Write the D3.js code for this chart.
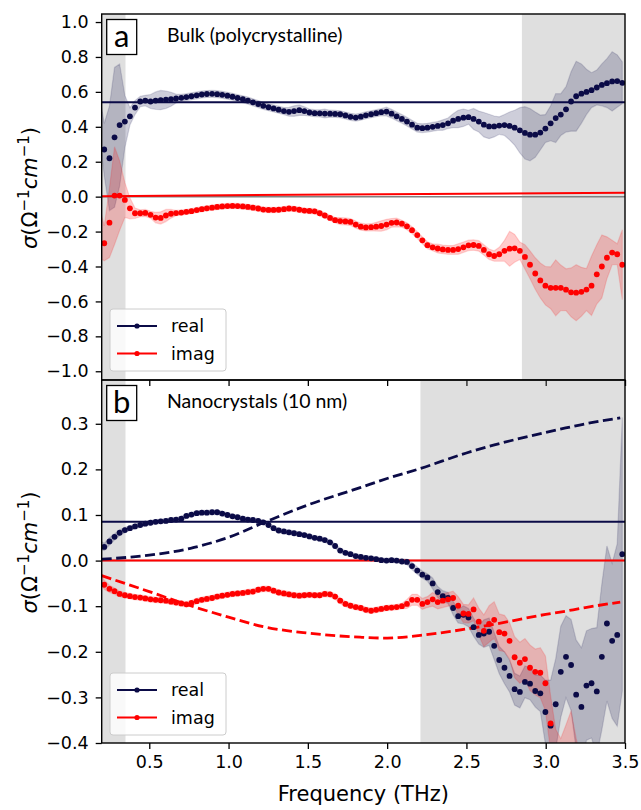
<!DOCTYPE html>
<html>
<head>
<meta charset="utf-8">
<script src="https://cdn.jsdelivr.net/npm/d3@7"></script>
<style>
  body { margin: 0; background: #fff; }
  svg { display: block; }
</style>
</head>
<body>
<div id="chart"></div>
<script>
// THz conductivity, bulk vs nanocrystals
//
// frequency grid of the measurement (THz)
var freq = [0.184,0.216,0.249,0.281,0.313,0.346,0.378,0.410,0.443,0.475,
  0.508,0.540,0.572,0.605,0.637,0.669,0.702,0.734,0.766,0.799,
  0.831,0.863,0.896,0.928,0.960,0.993,1.025,1.057,1.090,1.122,
  1.154,1.187,1.219,1.252,1.284,1.316,1.349,1.381,1.413,1.446,
  1.478,1.510,1.543,1.575,1.607,1.640,1.672,1.704,1.737,1.769,
  1.802,1.834,1.866,1.899,1.931,1.963,1.996,2.028,2.060,2.093,
  2.125,2.157,2.190,2.222,2.254,2.287,2.319,2.351,2.384,2.416,
  2.448,2.481,2.513,2.545,2.578,2.610,2.643,2.675,2.707,2.740,
  2.772,2.804,2.837,2.869,2.901,2.934,2.966,2.998,3.031,3.063,
  3.095,3.128,3.160,3.192,3.225,3.257,3.289,3.322,3.354,3.386,
  3.419,3.451,3.483];

// (a) bulk
var bulkReal = [0.48,0.27,0.22,0.34,0.41,0.43,0.46,0.51,0.545,0.55,
  0.545,0.55,0.553,0.555,0.558,0.562,0.566,0.57,0.575,0.58,
  0.585,0.588,0.589,0.587,0.583,0.578,0.572,0.565,0.558,0.55,
  0.54,0.53,0.52,0.512,0.505,0.498,0.49,0.486,0.49,0.495,
  0.49,0.482,0.478,0.477,0.476,0.475,0.474,0.472,0.465,0.457,
  0.453,0.458,0.466,0.472,0.478,0.484,0.487,0.475,0.46,0.445,
  0.43,0.412,0.395,0.392,0.395,0.4,0.405,0.41,0.42,0.435,
  0.445,0.452,0.455,0.445,0.43,0.412,0.402,0.402,0.407,0.41,
  0.405,0.395,0.38,0.365,0.355,0.355,0.367,0.39,0.42,0.45,
  0.47,0.5,0.545,0.575,0.59,0.6,0.61,0.625,0.64,0.65,
  0.66,0.662,0.652];
var bulkRealErr = [0.11,0.15,0.3,0.4,0.35,0.15,0.05,0.04,0.03,0.03,
  0.04,0.05,0.055,0.05,0.04,0.025,0.02,0.02,0.02,0.02,
  0.02,0.02,0.02,0.02,0.02,0.02,0.02,0.02,0.02,0.02,
  0.02,0.02,0.02,0.02,0.02,0.02,0.02,0.025,0.03,0.03,
  0.025,0.02,0.02,0.02,0.025,0.02,0.02,0.02,0.02,0.02,
  0.02,0.02,0.02,0.02,0.02,0.02,0.025,0.025,0.025,0.025,
  0.025,0.025,0.025,0.025,0.025,0.025,0.025,0.03,0.03,0.04,
  0.05,0.05,0.04,0.06,0.06,0.07,0.07,0.06,0.05,0.06,
  0.08,0.1,0.13,0.15,0.15,0.13,0.1,0.08,0.1,0.14,
  0.12,0.13,0.17,0.2,0.17,0.13,0.1,0.1,0.12,0.14,
  0.17,0.15,0.12];
var bulkImag = [-0.2,-0.267,-0.149,0.006,0.006,-0.019,-0.067,-0.095,-0.095,-0.093,
  -0.104,-0.12,-0.122,-0.108,-0.098,-0.094,-0.091,-0.087,-0.083,-0.077,
  -0.072,-0.067,-0.063,-0.059,-0.056,-0.054,-0.053,-0.054,-0.056,-0.059,
  -0.063,-0.068,-0.074,-0.076,-0.076,-0.075,-0.072,-0.068,-0.07,-0.075,
  -0.08,-0.082,-0.084,-0.095,-0.108,-0.122,-0.135,-0.14,-0.142,-0.145,
  -0.16,-0.172,-0.176,-0.175,-0.172,-0.168,-0.16,-0.15,-0.148,-0.155,
  -0.17,-0.192,-0.22,-0.25,-0.278,-0.29,-0.297,-0.302,-0.305,-0.305,
  -0.3,-0.29,-0.279,-0.277,-0.282,-0.305,-0.33,-0.34,-0.33,-0.31,
  -0.298,-0.296,-0.31,-0.345,-0.39,-0.44,-0.48,-0.51,-0.522,-0.522,
  -0.522,-0.533,-0.548,-0.55,-0.545,-0.532,-0.51,-0.445,-0.4,-0.35,
  -0.32,-0.33,-0.39];
var bulkImagErr = [0.15,0.1,0.2,0.28,0.2,0.1,0.06,0.03,0.02,0.02,
  0.02,0.03,0.035,0.035,0.025,0.015,0.015,0.015,0.015,0.015,
  0.015,0.015,0.015,0.015,0.015,0.015,0.015,0.015,0.015,0.015,
  0.015,0.015,0.015,0.015,0.015,0.015,0.015,0.015,0.015,0.015,
  0.015,0.015,0.015,0.015,0.015,0.015,0.015,0.02,0.02,0.02,
  0.02,0.02,0.02,0.02,0.025,0.03,0.03,0.025,0.025,0.02,
  0.02,0.02,0.02,0.02,0.02,0.02,0.025,0.025,0.025,0.025,
  0.03,0.03,0.03,0.03,0.03,0.03,0.03,0.03,0.04,0.06,
  0.1,0.08,0.05,0.07,0.08,0.09,0.1,0.11,0.12,0.16,
  0.13,0.12,0.14,0.16,0.14,0.12,0.17,0.17,0.18,0.12,
  0.07,0.06,0.2];

// (b) nanocrystals
var nanoReal = [0.035,0.03,0.042,0.052,0.061,0.067,0.071,0.075,0.078,0.081,
  0.083,0.085,0.086,0.087,0.089,0.09,0.092,0.098,0.101,0.104,
  0.105,0.105,0.106,0.106,0.103,0.1,0.097,0.095,0.092,0.09,
  0.089,0.087,0.084,0.078,0.071,0.066,0.064,0.062,0.06,0.058,
  0.056,0.053,0.05,0.048,0.045,0.04,0.032,0.022,0.017,0.014,
  0.01,0.008,0.006,0.005,0.003,0.001,0.0,0.001,0.0,-0.002,
  -0.003,-0.012,-0.022,-0.031,-0.037,-0.05,-0.069,-0.078,-0.082,-0.104,
  -0.122,-0.119,-0.125,-0.146,-0.163,-0.16,-0.156,-0.187,-0.218,-0.235,
  -0.253,-0.282,-0.288,-0.266,-0.27,-0.286,-0.291,-0.332,-0.362,-0.315,
  -0.244,-0.211,-0.229,-0.294,-0.321,-0.274,-0.269,-0.287,-0.211,-0.138,
  -0.176,-0.163,0.014];
var nanoRealErr = [0.01,0.008,0.008,0.007,0.006,0.006,0.005,0.005,0.005,0.005,
  0.005,0.005,0.005,0.005,0.005,0.005,0.005,0.005,0.005,0.005,
  0.005,0.005,0.005,0.005,0.005,0.005,0.005,0.005,0.005,0.005,
  0.005,0.005,0.005,0.005,0.005,0.005,0.005,0.005,0.005,0.005,
  0.005,0.005,0.005,0.005,0.005,0.005,0.005,0.005,0.005,0.005,
  0.005,0.005,0.005,0.005,0.005,0.005,0.005,0.005,0.005,0.005,
  0.006,0.008,0.008,0.008,0.008,0.012,0.012,0.012,0.012,0.015,
  0.015,0.02,0.02,0.02,0.02,0.03,0.03,0.03,0.03,0.035,
  0.035,0.035,0.035,0.035,0.035,0.035,0.04,0.07,0.1,0.1,
  0.1,0.09,0.1,0.12,0.13,0.12,0.12,0.14,0.16,0.17,
  0.17,0.2,0.3];
var nanoImag = [-0.035,-0.053,-0.062,-0.067,-0.073,-0.076,-0.078,-0.08,-0.081,-0.083,
  -0.085,-0.086,-0.087,-0.088,-0.09,-0.092,-0.094,-0.096,-0.093,-0.089,
  -0.086,-0.084,-0.082,-0.079,-0.077,-0.075,-0.073,-0.072,-0.071,-0.069,
  -0.068,-0.064,-0.062,-0.062,-0.066,-0.07,-0.072,-0.074,-0.076,-0.077,
  -0.076,-0.075,-0.076,-0.076,-0.073,-0.074,-0.079,-0.088,-0.095,-0.099,
  -0.102,-0.104,-0.108,-0.11,-0.108,-0.106,-0.104,-0.103,-0.102,-0.1,
  -0.095,-0.086,-0.086,-0.095,-0.091,-0.085,-0.091,-0.088,-0.085,-0.082,
  -0.099,-0.116,-0.117,-0.107,-0.134,-0.154,-0.139,-0.13,-0.157,-0.16,
  -0.176,-0.212,-0.224,-0.216,-0.235,-0.244,-0.246,-0.269,-0.357,-0.42,
  -0.45,-0.46,-0.45,-0.47,-0.5,-0.55,-0.55,-0.55,-0.55,-0.55,
  -0.55,-0.55,-0.55];
var nanoImagErr = [0.012,0.01,0.008,0.007,0.006,0.006,0.006,0.006,0.006,0.006,
  0.006,0.006,0.006,0.006,0.006,0.006,0.006,0.006,0.006,0.006,
  0.006,0.006,0.006,0.006,0.006,0.006,0.006,0.006,0.006,0.006,
  0.006,0.006,0.006,0.006,0.006,0.006,0.006,0.006,0.006,0.006,
  0.006,0.006,0.006,0.006,0.006,0.006,0.006,0.006,0.006,0.006,
  0.006,0.006,0.006,0.006,0.006,0.006,0.006,0.006,0.006,0.006,
  0.01,0.012,0.012,0.012,0.012,0.015,0.015,0.015,0.015,0.015,
  0.02,0.02,0.02,0.025,0.03,0.035,0.04,0.04,0.04,0.04,
  0.04,0.045,0.045,0.045,0.05,0.05,0.055,0.06,0.06,0.05,
  0.06,0.1,0.12,0.08,0.06,0.05,0.05,0.05,0.05,0.05,
  0.05,0.05,0.05];

// fits
var fitFreq = [0.2, 3.5];
var bulkFitReal = [0.54, 0.54];
var bulkFitImag = [0.003, 0.023];
var nanoFitReal = [0.085, 0.085];
var nanoFitImag = [0.0, 0.0];
// model curves (dashed) for the nanocrystals
var modelFreq = [0.2, 0.5, 0.76, 1.0, 1.22, 1.5, 1.83, 2.0, 2.21, 2.5, 2.67, 3.0, 3.09, 3.25, 3.47];
var modelReal = [0.003, 0.012, 0.027, 0.051, 0.083, 0.122, 0.16, 0.18, 0.202, 0.236, 0.253, 0.281, 0.288, 0.3, 0.313];
var modelImag = [-0.033, -0.068, -0.099, -0.124, -0.145, -0.159, -0.168, -0.17, -0.164, -0.15, -0.14, -0.118, -0.113, -0.103, -0.091];

// shaded frequency windows and ticks
var bulkShades = [[0.2, 0.35], [2.85, 3.5]];
var nanoShades = [[0.2, 0.35], [2.21, 3.5]];
var xTicks = [0.5, 1.0, 1.5, 2.0, 2.5, 3.0, 3.5];
var bulkTicks = [-1.0, -0.8, -0.6, -0.4, -0.2, 0.0, 0.2, 0.4, 0.6, 0.8, 1.0];
var nanoTicks = [-0.4, -0.3, -0.2, -0.1, 0.0, 0.1, 0.2, 0.3];
var legendLabels = ["real", "imag"];

var NAVY = "#0b0b47", RED = "#ff0000";

var width = 641, height = 810;
var left = 101.7, right = 625;

var x = d3.scaleLinear().domain([0.2, 3.5]).range([left, right]);

var panels = [
  {label: "a", title: "Bulk (polycrystalline)", top: 14, bottom: 380, domain: [-1.05, 1.046],
   ticks: bulkTicks, real: bulkReal, realErr: bulkRealErr, imag: bulkImag, imagErr: bulkImagErr,
   shades: bulkShades, fitReal: bulkFitReal, fitImag: bulkFitImag, model: false, legendTop: 309, xLabels: false},
  {label: "b", title: "Nanocrystals (10 nm)", top: 380, bottom: 743, domain: [-0.4, 0.396],
   ticks: nanoTicks, real: nanoReal, realErr: nanoRealErr, imag: nanoImag, imagErr: nanoImagErr,
   shades: nanoShades, fitReal: nanoFitReal, fitImag: nanoFitImag, model: true, legendTop: 673, xLabels: true}
];

var svg = d3.select("#chart").append("svg")
  .attr("width", width)
  .attr("height", height)
  .style("font-family", "'DejaVu Sans', sans-serif");

var fmt = d3.format(".1f");

panels.forEach(function(p, k) {
  var y = d3.scaleLinear().domain(p.domain).range([p.bottom, p.top]);
  var g = svg.append("g");

  var clipId = "clip" + k;
  svg.append("clipPath").attr("id", clipId)
    .append("rect")
      .attr("x", left).attr("y", p.top)
      .attr("width", right - left).attr("height", p.bottom - p.top);

  var plot = g.append("g").attr("clip-path", "url(#" + clipId + ")");

  // grey windows
  plot.selectAll(".shade")
    .data(p.shades)
    .enter().append("rect")
      .attr("x", d => x(d[0]))
      .attr("width", d => x(d[1]) - x(d[0]))
      .attr("y", p.top)
      .attr("height", p.bottom - p.top)
      .style("fill", "#808080")
      .style("fill-opacity", 0.25);

  var series = [
    {vals: p.real, err: p.realErr, color: NAVY},
    {vals: p.imag, err: p.imagErr, color: RED}
  ];

  // error bands
  series.forEach(function(s) {
    var area = d3.area()
      .x((d, i) => x(freq[i]))
      .y0((d, i) => y(d - s.err[i]))
      .y1((d, i) => y(d + s.err[i]));
    plot.append("path")
      .datum(s.vals)
      .attr("d", area)
      .style("fill", s.color)
      .style("fill-opacity", 0.2)
      .style("stroke", s.color)
      .style("stroke-opacity", 0.15)
      .style("stroke-width", 1.2);
  });

  // zero line
  plot.append("line")
    .attr("x1", left).attr("x2", right)
    .attr("y1", y(0)).attr("y2", y(0))
    .style("stroke", "#808080")
    .style("stroke-width", 1.5);

  var line = d3.line().x(d => x(d[0])).y(d => y(d[1]));

  // fit lines
  plot.append("path")
    .datum(fitFreq.map((f, i) => [f, p.fitReal[i]]))
    .attr("d", line)
    .style("fill", "none").style("stroke", NAVY).style("stroke-width", 2);
  plot.append("path")
    .datum(fitFreq.map((f, i) => [f, p.fitImag[i]]))
    .attr("d", line)
    .style("fill", "none").style("stroke", RED).style("stroke-width", 2);

  if (p.model) {
    var smooth = d3.line().curve(d3.curveMonotoneX).x(d => x(d[0])).y(d => y(d[1]));
    plot.append("path")
      .datum(modelFreq.map((f, i) => [f, modelReal[i]]))
      .attr("d", smooth)
      .style("fill", "none").style("stroke", NAVY).style("stroke-width", 2.8)
      .style("stroke-dasharray", "10,4.5");
    plot.append("path")
      .datum(modelFreq.map((f, i) => [f, modelImag[i]]))
      .attr("d", smooth)
      .style("fill", "none").style("stroke", RED).style("stroke-width", 2.8)
      .style("stroke-dasharray", "10,4.5");
  }

  // data points
  series.forEach(function(s) {
    plot.append("g").selectAll("circle")
      .data(s.vals)
      .enter().append("circle")
        .attr("cx", (d, i) => x(freq[i]))
        .attr("cy", d => y(d))
        .attr("r", 2.9)
        .style("fill", s.color);
  });

  // y axis
  g.append("g")
    .attr("transform", "translate(" + left + ",0)")
    .call(d3.axisLeft(y).tickValues(p.ticks).tickSize(6).tickPadding(7).tickFormat(fmt))
    .call(a => a.select(".domain").remove())
    .call(a => a.selectAll("line").style("stroke", "#000").style("stroke-width", 1.3))
    .call(a => a.selectAll("text").style("font-size", "17.5px").style("fill", "#000")
      .style("font-family", "'DejaVu Sans', sans-serif"));

  // x axis
  g.append("g")
    .attr("transform", "translate(0," + p.bottom + ")")
    .call(d3.axisBottom(x).tickValues(xTicks).tickSize(6).tickPadding(7)
      .tickFormat(p.xLabels ? fmt : ""))
    .call(a => a.select(".domain").remove())
    .call(a => a.selectAll("line").style("stroke", "#000").style("stroke-width", 1.3))
    .call(a => a.selectAll("text").style("font-size", "17.5px").style("fill", "#000")
      .style("font-family", "'DejaVu Sans', sans-serif"));

  // frame
  g.append("rect")
    .attr("x", left).attr("y", p.top)
    .attr("width", right - left).attr("height", p.bottom - p.top)
    .style("fill", "none").style("stroke", "#000").style("stroke-width", 1.4);

  // y label: sigma(Ohm^-1 cm^-1)
  var yl = g.append("text")
    .attr("transform", "translate(37," + ((p.top + p.bottom) / 2 - 9) + ") rotate(-90)")
    .attr("text-anchor", "middle")
    .style("font-size", "21px")
    .style("fill", "#000");
  yl.append("tspan").style("font-style", "italic").text("σ");
  yl.append("tspan").text("(Ω");
  yl.append("tspan").attr("dy", -8).style("font-size", "15px").text("−1");
  yl.append("tspan").attr("dy", 8).style("font-style", "italic").text("cm");
  yl.append("tspan").attr("dy", -8).style("font-size", "15px").text("−1");
  yl.append("tspan").attr("dy", 8).text(")");

  // panel label box + title
  g.append("rect")
    .attr("x", 106.7).attr("y", p.top + 5.5)
    .attr("width", 30).attr("height", 35)
    .style("fill", "#fff").style("stroke", "#000").style("stroke-width", 1.3);
  g.append("text")
    .attr("x", 121.7).attr("y", p.top + 32.5)
    .attr("text-anchor", "middle")
    .style("font-family", "Lato, sans-serif")
    .style("font-size", "31px")
    .text(p.label);
  g.append("text")
    .attr("x", 167).attr("y", p.top + 28)
    .style("font-family", "Lato, sans-serif")
    .style("font-size", "19.5px")
    .text(p.title);

  // legend
  var lg = g.append("g").attr("transform", "translate(110," + p.legendTop + ")");
  lg.append("rect")
    .attr("width", 116).attr("height", 62).attr("rx", 3)
    .style("fill", "#fff").style("fill-opacity", 0.8)
    .style("stroke", "#cccccc").style("stroke-width", 1);
  legendLabels.forEach(function(name, j) {
    var cy = 17 + j * 27.5;
    var c = j === 0 ? NAVY : RED;
    lg.append("line").attr("x1", 7).attr("x2", 47).attr("y1", cy).attr("y2", cy)
      .style("stroke", c).style("stroke-width", 2);
    lg.append("circle").attr("cx", 27).attr("cy", cy).attr("r", 2.6).style("fill", c);
    lg.append("text").attr("x", 61).attr("y", cy + 6)
      .style("font-size", "17.5px").style("fill", "#000")
      .text(name);
  });
});

// x label
svg.append("text")
  .attr("x", (left + right) / 2)
  .attr("y", 801)
  .attr("text-anchor", "middle")
  .style("font-size", "21px")
  .style("fill", "#000")
  .text("Frequency (THz)");
</script>
</body>
</html>
